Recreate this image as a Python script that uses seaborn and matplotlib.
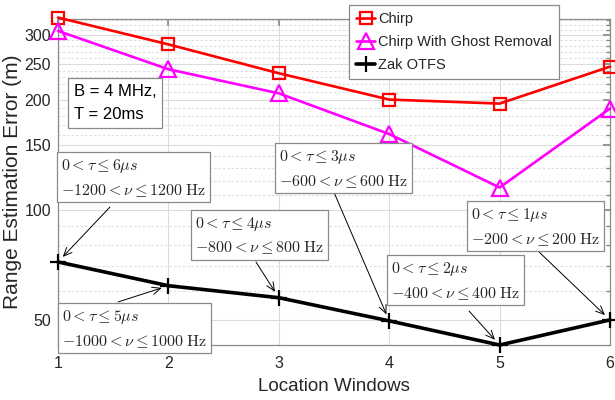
import numpy as np
import pandas as pd
import seaborn as sns
import matplotlib
import matplotlib.pyplot as plt
from matplotlib.ticker import FixedLocator, FixedFormatter, MultipleLocator, NullFormatter

windows = [1, 2, 3, 4, 5, 6]
chirp = [335, 283, 236, 200, 195, 246]
chirp_ghost = [308, 242, 208, 161, 115, 189]
zak_otfs = [72, 62, 57.5, 49.7, 42.7, 50]

y_ticks = [50, 100, 150, 200, 250, 300]

# delay / doppler spread labels, one per window of the Zak OTFS curve
tau_max = [6, 5, 4, 3, 2, 1]
nu_max = [1200, 1000, 800, 600, 400, 200]

sns.set_theme(style='white')
plt.rcParams['font.family'] = ['Liberation Sans', 'DejaVu Sans']
plt.rcParams['mathtext.fontset'] = 'cm'

W, H = 615, 400
fig = plt.figure(figsize=(W / 100, H / 100), dpi=100)
ax = fig.add_axes([58 / W, 1 - 345 / H, (610 - 58) / W, (345 - 19) / H])

df = pd.DataFrame({'window': windows * 3,
                   'error': chirp + chirp_ghost + zak_otfs,
                   'method': ['Chirp'] * 6 + ['Chirp With Ghost Removal'] * 6 + ['Zak OTFS'] * 6})

styles = {
    'Chirp': dict(color='#ff0000', marker='s', ms=8.5, lw=1.9),
    'Chirp With Ghost Removal': dict(color='#ff00ff', marker='^', ms=11, lw=1.9),
    'Zak OTFS': dict(color='black', marker='+', ms=11, lw=2.6),
}
for name, st in styles.items():
    sub = df[df['method'] == name]
    sns.lineplot(data=sub, x='window', y='error', ax=ax, label=name, color=st['color'],
                 marker=st['marker'], markersize=st['ms'], linewidth=st['lw'],
                 mfc='none', mec=st['color'], mew=1.6, clip_on=False, zorder=5)

ax.set_yscale('log')
ax.set_xlim(1, 6)
ax.set_ylim(42.7, 332)
ax.set_xticks(windows)
ax.yaxis.set_major_locator(FixedLocator(y_ticks))
ax.yaxis.set_major_formatter(FixedFormatter([str(v) for v in y_ticks]))
ax.yaxis.set_minor_locator(MultipleLocator(10))
ax.yaxis.set_minor_formatter(NullFormatter())

ax.grid(True, which='major', color='#dcdcdc', lw=0.8, ls='-')
ax.grid(True, which='minor', color='#dcdcdc', lw=0.8, ls=(0, (2, 2)))
ax.set_axisbelow(True)
for sp in ax.spines.values():
    sp.set_color('#8a8a8a')
    sp.set_linewidth(0.9)
ax.tick_params(which='both', direction='in', top=True, right=True, color='#8a8a8a',
               labelsize=11.5, labelcolor='#262626')
ax.tick_params(which='major', length=5)
ax.tick_params(which='minor', length=3)
ax.tick_params(axis='x', pad=8)
ax.tick_params(axis='y', pad=5)

ax.set_xlabel('Location Windows', fontsize=13.5, color='#262626', labelpad=5)
ax.set_ylabel('Range Estimation Error (m)', fontsize=15, color='#262626', labelpad=2)

leg = ax.legend(loc='upper left', bbox_to_anchor=(349 / W, 1 - 5 / H), bbox_transform=fig.transFigure,
                fontsize=10.5, frameon=True, fancybox=False, framealpha=1, edgecolor='#8a8a8a',
                handlelength=1.3, handletextpad=0.2, borderpad=0.5, labelspacing=0.6,
                borderaxespad=0)
leg.get_frame().set_linewidth(0.9)
leg.set_zorder(10)

fig.text(74 / W, 1 - 84 / H, 'B = 4 MHz,\nT = 20ms', fontsize=12, ha='left', va='top',
         linespacing=1.7, color='black',
         bbox=dict(boxstyle='square,pad=0.35', fc='white', ec='#8a8a8a', lw=0.9))

# top-left corner of each text box and tail of its arrow, in figure pixels
box_pos = [(57, 152), (58, 303), (191, 210), (275, 143), (387, 255), (467, 201)]
arrow_tail = [(110, 207), (118, 302), (256, 262), (333, 190), (469, 311), (537, 250)]

box = dict(boxstyle='square,pad=0.25', fc='white', ec='#8a8a8a', lw=0.9)
for i, x in enumerate(windows):
    label = (rf'$0 < \tau \leq {tau_max[i]}\mu s$' + '\n'
             + rf'$-{nu_max[i]} < \nu \leq {nu_max[i]}\ \mathrm{{Hz}}$')
    bx, by = box_pos[i]
    fig.text((bx + 4) / W, 1 - (by + 5) / H, label, fontsize=11.5, ha='left', va='top',
             linespacing=1.5, bbox=box, zorder=8)
    tx, ty = arrow_tail[i]
    ax.annotate('', xy=(x, zak_otfs[i]), xycoords='data',
                xytext=(tx / W, 1 - ty / H), textcoords='figure fraction',
                arrowprops=dict(arrowstyle='->,head_length=0.5,head_width=0.22', color='black',
                                lw=0.7, shrinkA=0, shrinkB=5), zorder=9)

fig.savefig('out.png', dpi=100)
